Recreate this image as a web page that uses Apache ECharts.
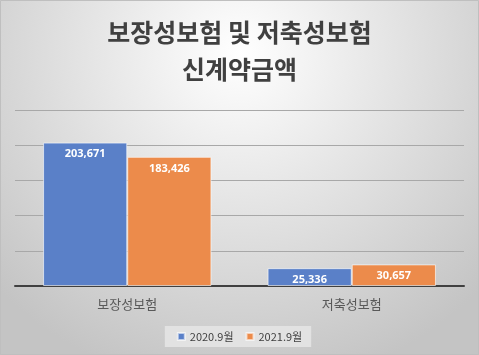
<!DOCTYPE html>
<html><head><meta charset="utf-8">
<script src="https://cdn.jsdelivr.net/npm/echarts@6/dist/echarts.min.js"></script>
<style>html,body{margin:0;padding:0;}#c{width:479px;height:355px;}</style>
</head><body><div id="c"></div>
<script>
var categories = ['보장성보험', '저축성보험'];
var seriesNames = ['2020.9월', '2021.9월'];
var values2020 = [203671, 25336];
var values2021 = [183426, 30657];
var chart = echarts.init(document.getElementById('c'));
var fmt = function (p) { return p.value.toLocaleString('en-US'); };
var label = { show: true, position: 'insideTop', distance: 6, color: '#ffffff', fontWeight: 'bold', fontSize: 11, fontFamily: 'Noto Sans', formatter: fmt };
chart.setOption({
  backgroundColor: { type: 'radial', x: 0.5, y: 0.15, r: 0.95, colorStops: [{ offset: 0, color: '#ffffff' }, { offset: 1, color: '#c4c4c4' }] },
  title: {
    text: '보장성보험 및 저축성보험\n신계약금액', left: 'center', top: 9,
    textStyle: { fontFamily: 'Noto Sans CJK KR', fontWeight: 'bold', fontSize: 25, lineHeight: 37, color: '#404040' }
  },
  legend: {
    bottom: 8, left: 'center', itemWidth: 7, itemHeight: 7, itemGap: 12, icon: 'rect',
    backgroundColor: '#e2e2e2', padding: [5, 9, 5, 12],
    textStyle: { fontFamily: 'Noto Sans CJK KR', fontSize: 11, color: '#404040' },
    data: seriesNames
  },
  grid: { left: 15, right: 15, top: 110, bottom: 69 },
  xAxis: {
    type: 'category', data: categories,
    axisLine: { lineStyle: { color: '#404040', width: 2 } },
    axisTick: { show: false },
    axisLabel: { margin: 12, fontSize: 13, fontFamily: 'Noto Sans CJK KR', color: '#595959' }
  },
  yAxis: {
    type: 'value', min: 0, max: 250000, interval: 50000,
    axisLabel: { show: false }, axisLine: { show: false }, axisTick: { show: false },
    splitLine: { lineStyle: { color: '#a8a8a8', width: 1 } }
  },
  series: [
    { name: seriesNames[0], type: 'bar', data: values2020, barGap: '0%', barCategoryGap: '25%',
      itemStyle: { color: '#5a80c8', borderColor: 'rgba(255,255,255,0.6)', borderWidth: 1 }, label: label },
    { name: seriesNames[1], type: 'bar', data: values2021,
      itemStyle: { color: '#ec8b4b', borderColor: 'rgba(255,255,255,0.6)', borderWidth: 1 }, label: label }
  ],
  graphic: [{ type: 'rect', shape: { x: 0.5, y: 0.5, width: 478, height: 354 }, style: { fill: 'none', stroke: '#bfbfbf', lineWidth: 1 }, silent: true }]
});
</script></body></html>
